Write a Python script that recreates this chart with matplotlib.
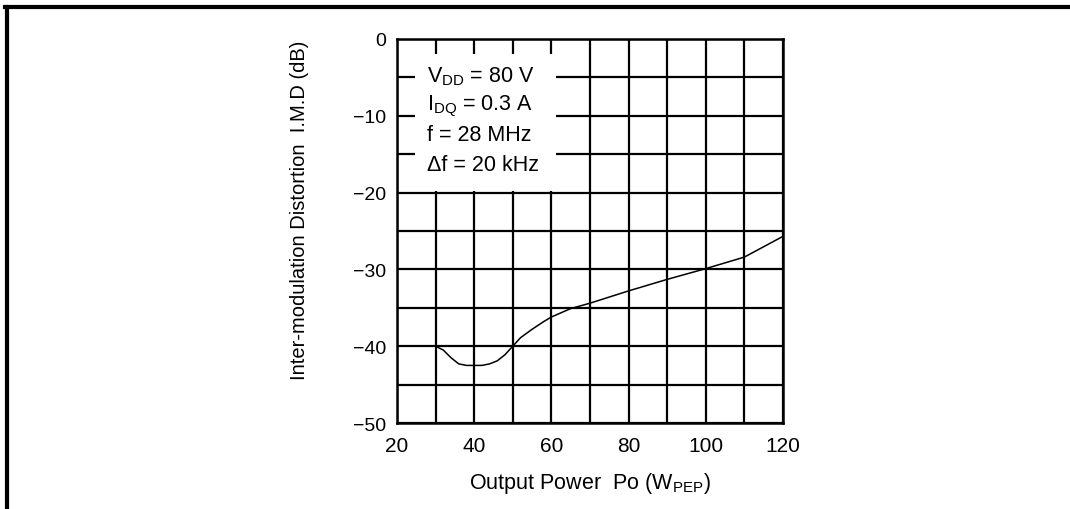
import matplotlib
matplotlib.use("Agg")
import matplotlib.pyplot as plt
from matplotlib.lines import Line2D
from matplotlib.patches import Rectangle
from matplotlib.ticker import MultipleLocator

plt.rcParams['font.family'] = ['Liberation Sans', 'DejaVu Sans']
plt.rcParams['mathtext.fontset'] = 'custom'
plt.rcParams['mathtext.rm'] = 'Liberation Sans'

# --- data ---
power = [30, 32, 34, 36, 38, 40, 42, 44, 46, 48, 50, 52, 55, 58, 60, 65, 70, 80, 90, 100, 110, 120]
imd = [-40, -40.5, -41.5, -42.3, -42.5, -42.5, -42.5, -42.3, -41.9, -41.1, -40, -38.9, -37.8,
       -36.8, -36.2, -35.1, -34.4, -32.8, -31.3, -29.9, -28.4, -25.7]

x_ticks = [20, 40, 60, 80, 100, 120]
y_ticks = [0, -10, -20, -30, -40, -50]
conditions = [r"V$_{\rm DD}$ = 80 V", r"I$_{\rm DQ}$ = 0.3 A", "f = 28 MHz", "Δf = 20 kHz"]

fig = plt.figure(figsize=(10.7, 5.1), dpi=100)
ax = fig.add_axes([0.371, 0.1686, 0.3607, 0.753])

ax.plot(power, imd, color="black", lw=1.1, zorder=4)

ax.set_xlim(20, 120)
ax.set_ylim(-50, 0)
ax.set_xticks(x_ticks)
ax.set_yticks(y_ticks)
ax.set_yticklabels(["0" if v == 0 else f"\u2212{abs(v)}" for v in y_ticks])
ax.xaxis.set_minor_locator(MultipleLocator(10))
ax.yaxis.set_minor_locator(MultipleLocator(5))
ax.grid(which="both", color="black", lw=1.6)
ax.tick_params(which="both", length=0)
ax.tick_params(axis="x", pad=9, labelsize=15)
ax.tick_params(axis="y", pad=8, labelsize=14)
for s in ax.spines.values():
    s.set_linewidth(1.8)

# white box behind the conditions
ax.add_patch(Rectangle((0.047, 0.604), 0.365, 0.356, transform=ax.transAxes,
                       facecolor="white", edgecolor="none", zorder=2.5))
for i, t in enumerate(conditions):
    ax.text(0.078, 0.905 - i * 0.077, t, transform=ax.transAxes, fontsize=15.5,
            va="center", ha="left", zorder=3)

ax.set_xlabel("Output Power  Po (W$_{\\rm PEP}$)", fontsize=15.5, labelpad=11)
ax.set_ylabel("Inter-modulation Distortion  I.M.D (dB)", fontsize=14.5)
ax.yaxis.set_label_coords(-0.228, 0.557)

# outer frame (top and left edges)
fig.add_artist(Line2D([0.005, 1.0], [0.985, 0.985], color="black", lw=3, transform=fig.transFigure))
fig.add_artist(Line2D([0.0065, 0.0065], [0.0, 0.985], color="black", lw=3, transform=fig.transFigure))

fig.savefig("out.png", dpi=100)
